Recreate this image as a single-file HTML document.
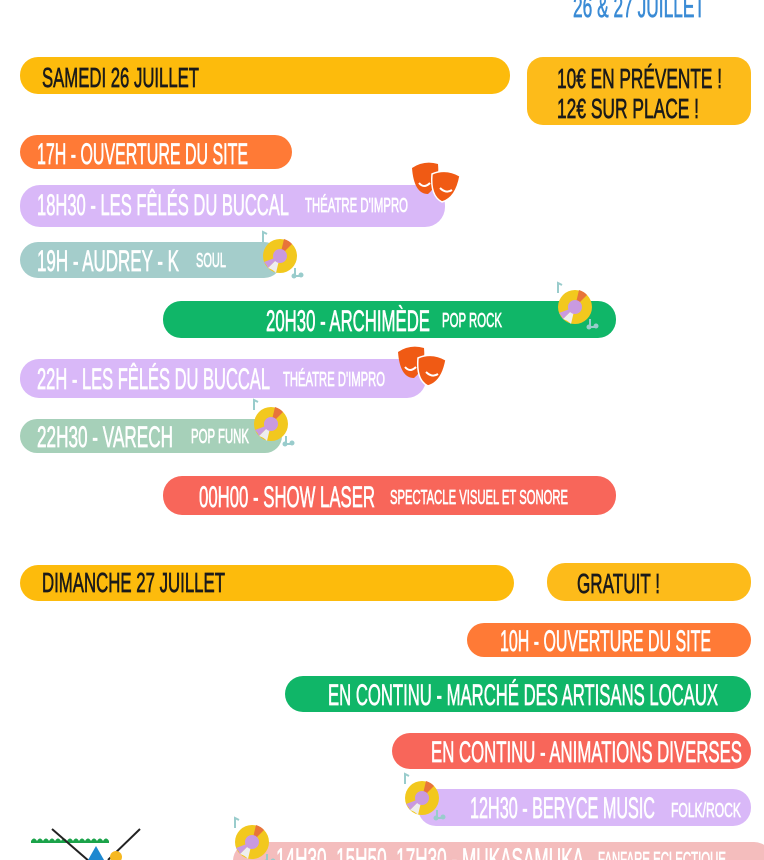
<!DOCTYPE html>
<html><head><meta charset="utf-8"><style>
html,body{margin:0;padding:0;background:#fff;width:764px;height:860px;overflow:hidden}
text{font-family:"Liberation Sans",sans-serif;stroke-width:0.7px}
text[fill="#fff"]{stroke:#fff}
text[fill="#1a1a1a"]{stroke:#1a1a1a}
text[fill="#3A8BD5"]{stroke:#3A8BD5}
</style></head><body>
<svg width="764" height="860" viewBox="0 0 764 860" xmlns="http://www.w3.org/2000/svg">
<defs>
<g id="disc">
  <circle cx="0" cy="0" r="17" fill="#F2C81E"/>
  <path d="M0 0 L4 -17 A17 17 0 0 1 12 -12 Z" fill="#E8743A"/>
  <path d="M0 0 L-12 12 A17 17 0 0 1 -4 17 Z" fill="#eee"/>
  <path d="M0 0 L-16 6 A17 17 0 0 1 -12 12 Z" fill="#C99AE0"/>
  <circle cx="0" cy="0" r="7" fill="#C99AE0"/>
  <path d="M-17 -14 l0 -10 l4 2" stroke="#9cc" stroke-width="2" fill="none"/>
  <path d="M15 12 l0 8 m0 0 l6 0 l0 -3" stroke="#9cc" stroke-width="2" fill="none"/>
  <circle cx="14" cy="20" r="2.5" fill="#9cc"/><circle cx="21" cy="19" r="2.5" fill="#9cc"/>
</g>
<g id="masks">
  <path d="M0 4 Q12 -4 26 0 Q28 20 16 30 Q2 30 0 4Z" fill="#F05A14"/>
  <path d="M20 10 Q34 4 48 12 Q44 34 30 38 Q18 32 20 10Z" fill="#F05A14" stroke="#fff" stroke-width="1.5"/>
  <path d="M7 19 Q12 25 18 19" stroke="#fff" stroke-width="2" fill="none"/>
  <path d="M28 24 Q34 30 40 26" stroke="#fff" stroke-width="2" fill="none"/>
</g>
</defs>

<text x="573" y="17" font-size="30" fill="#3A8BD5" textLength="132" lengthAdjust="spacingAndGlyphs">26 &amp; 27 JUILLET</text>

<rect x="20" y="57" width="490" height="37" rx="18" fill="#FDBB0C"/>
<text x="42" y="87" font-size="28" fill="#1a1a1a" textLength="157" lengthAdjust="spacingAndGlyphs">SAMEDI 26 JUILLET</text>
<rect x="527" y="57" width="224" height="68" rx="16" fill="#FDBB1A"/>
<text x="557" y="88" font-size="28" fill="#1a1a1a" textLength="165" lengthAdjust="spacingAndGlyphs">10€ EN PRÉVENTE !</text>
<text x="557" y="118" font-size="28" fill="#1a1a1a" textLength="142" lengthAdjust="spacingAndGlyphs">12€ SUR PLACE !</text>

<rect x="20" y="135" width="272" height="34" rx="17" fill="#FF7A36"/>
<text x="37" y="164" font-size="30" fill="#fff" textLength="211" lengthAdjust="spacingAndGlyphs">17H - OUVERTURE DU SITE</text>

<rect x="20" y="185" width="425" height="42" rx="20" fill="#D9B8F8"/>
<text x="37" y="215" font-size="30" fill="#fff" textLength="252" lengthAdjust="spacingAndGlyphs">18H30 -  LES FÊLÉS DU BUCCAL</text>
<text x="305" y="212" font-size="20" fill="#fff" textLength="103" lengthAdjust="spacingAndGlyphs">THÉATRE D'IMPRO</text>
<use href="#masks" x="412" y="164"/>

<rect x="20" y="242" width="262" height="36" rx="18" fill="#A4CDCB"/>
<text x="37" y="271" font-size="30" fill="#fff" textLength="142" lengthAdjust="spacingAndGlyphs">19H - AUDREY - K</text>
<text x="196" y="267" font-size="20" fill="#fff" textLength="30" lengthAdjust="spacingAndGlyphs">SOUL</text>
<use href="#disc" x="280" y="256"/>

<rect x="163" y="301" width="453" height="37" rx="18" fill="#10B668"/>
<text x="266" y="331" font-size="30" fill="#fff" textLength="164" lengthAdjust="spacingAndGlyphs">20H30 - ARCHIMÈDE</text>
<text x="442" y="327" font-size="20" fill="#fff" textLength="60" lengthAdjust="spacingAndGlyphs">POP ROCK</text>
<use href="#disc" x="575" y="307"/>

<rect x="20" y="359" width="406" height="39" rx="19" fill="#D9B8F8"/>
<text x="37" y="389" font-size="30" fill="#fff" textLength="233" lengthAdjust="spacingAndGlyphs">22H -  LES FÊLÉS DU BUCCAL</text>
<text x="283" y="386" font-size="20" fill="#fff" textLength="102" lengthAdjust="spacingAndGlyphs">THÉATRE D'IMPRO</text>
<use href="#masks" x="398" y="348"/>

<rect x="20" y="419" width="262" height="34" rx="17" fill="#A6D0B9"/>
<text x="37" y="447" font-size="30" fill="#fff" textLength="136" lengthAdjust="spacingAndGlyphs">22H30 - VARECH</text>
<text x="191" y="443" font-size="20" fill="#fff" textLength="58" lengthAdjust="spacingAndGlyphs">POP FUNK</text>
<use href="#disc" x="271" y="424"/>

<rect x="163" y="476" width="453" height="39" rx="19" fill="#F8665A"/>
<text x="199" y="507" font-size="30" fill="#fff" textLength="176" lengthAdjust="spacingAndGlyphs">00H00 - SHOW LASER</text>
<text x="390" y="504" font-size="20" fill="#fff" textLength="178" lengthAdjust="spacingAndGlyphs">SPECTACLE VISUEL ET SONORE</text>

<rect x="20" y="565" width="494" height="36" rx="18" fill="#FDBB0C"/>
<text x="42" y="592" font-size="28" fill="#1a1a1a" textLength="183" lengthAdjust="spacingAndGlyphs">DIMANCHE 27 JUILLET</text>
<rect x="547" y="563" width="204" height="38" rx="18" fill="#FDBB1A"/>
<text x="577" y="593" font-size="28" fill="#1a1a1a" textLength="83" lengthAdjust="spacingAndGlyphs">GRATUIT !</text>

<rect x="467" y="623" width="284" height="34" rx="17" fill="#FF7A36"/>
<text x="500" y="651" font-size="30" fill="#fff" textLength="211" lengthAdjust="spacingAndGlyphs">10H - OUVERTURE DU SITE</text>

<rect x="285" y="676" width="466" height="36" rx="18" fill="#10B668"/>
<text x="328" y="705" font-size="30" fill="#fff" textLength="390" lengthAdjust="spacingAndGlyphs">EN CONTINU - MARCHÉ DES ARTISANS LOCAUX</text>

<rect x="392" y="733" width="359" height="36" rx="18" fill="#F8665A"/>
<text x="431" y="762" font-size="30" fill="#fff" textLength="311" lengthAdjust="spacingAndGlyphs">EN CONTINU - ANIMATIONS DIVERSES</text>

<rect x="418" y="789" width="333" height="37" rx="18" fill="#D9B8F8"/>
<text x="470" y="818" font-size="30" fill="#fff" textLength="185" lengthAdjust="spacingAndGlyphs">12H30 - BERYCE MUSIC</text>
<text x="671" y="817" font-size="20" fill="#fff" textLength="70" lengthAdjust="spacingAndGlyphs">FOLK/ROCK</text>
<use href="#disc" x="422" y="798"/>

<rect x="233" y="842" width="540" height="40" rx="19" fill="#F4BDBD"/>
<text x="276" y="869" font-size="30" fill="#fff" textLength="308" lengthAdjust="spacingAndGlyphs">14H30, 15H50, 17H30 - MUKASAMUKA</text>
<text x="598" y="866" font-size="20" fill="#fff" textLength="128" lengthAdjust="spacingAndGlyphs">FANFARE ECLECTIQUE</text>
<use href="#disc" x="252" y="842"/>

<path d="M31 841 q3 -5 6 0 q3 -5 6 0 q3 -5 6 0 q3 -5 6 0 q3 -5 6 0 q3 -5 6 0 q3 -5 6 0 q3 -5 6 0 q3 -5 6 0 q3 -5 6 0 q3 -5 6 0 q3 -5 6 0 q3 -5 6 0 l0 2 l-78 0 z" fill="#1BA34A"/>
<line x1="52" y1="829" x2="90" y2="862" stroke="#222" stroke-width="2"/>
<line x1="140" y1="829" x2="108" y2="860" stroke="#222" stroke-width="2"/>
<path d="M96 846 L88 860 L104 860 Z" fill="#1E88D0"/>
<circle cx="116" cy="857" r="6" fill="#F6B820"/>
</svg>
</body></html>
